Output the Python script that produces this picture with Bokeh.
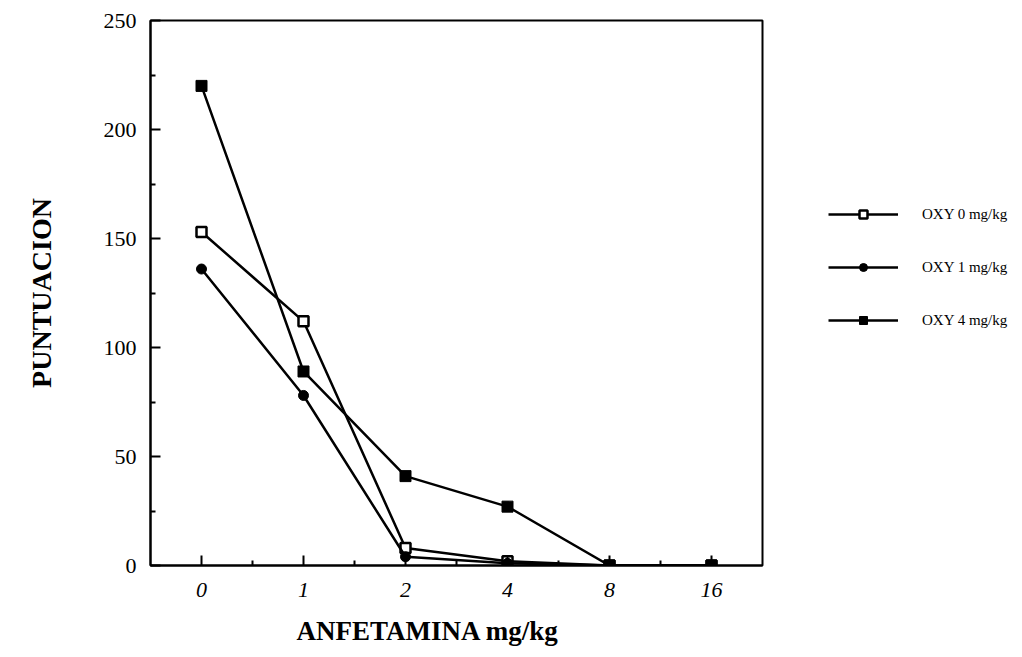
from bokeh.plotting import figure
from bokeh.models import Range1d, FixedTicker, Legend, LegendItem, Title
from bokeh.embed import file_html
from bokeh.resources import INLINE

# ---- data ----
doses = ["0", "1", "2", "4", "8", "16"]          # ANFETAMINA mg/kg (categorical)
oxy0 = [153, 112, 8, 2, 0, 0]                    # OXY 0 mg/kg (open square)
oxy1 = [136, 78, 4, 1, 0, 0]                     # OXY 1 mg/kg (filled circle)
oxy4 = [220, 89, 41, 27, 0, 0]                   # OXY 4 mg/kg (filled square)
y_ticks = [0, 50, 100, 150, 200, 250]
series_labels = ["OXY 0 mg/kg", "OXY 1 mg/kg", "OXY 4 mg/kg"]

xpos = list(range(len(doses)))
SERIF = "Liberation Serif"

p = figure(frame_width=612, frame_height=545, output_backend="svg", toolbar_location=None,
           x_range=Range1d(-0.5, len(doses) - 0.5),
           y_range=Range1d(y_ticks[0], y_ticks[-1]),
           min_border_left=150, min_border_right=0,
           min_border_top=20, min_border_bottom=0)

p.background_fill_color = "white"
p.border_fill_color = "white"
p.grid.visible = False
p.outline_line_color = "black"
p.outline_line_width = 2

# axes
p.xaxis.ticker = FixedTicker(ticks=xpos, minor_ticks=[i + 0.5 for i in xpos[:-1]])
p.xaxis.major_label_overrides = {i: d for i, d in enumerate(doses)}
p.yaxis.ticker = FixedTicker(ticks=y_ticks,
                             minor_ticks=[(a + b) / 2 for a, b in zip(y_ticks[:-1], y_ticks[1:])])

for ax in (p.xaxis[0], p.yaxis[0]):
    ax.axis_line_color = "black"
    ax.axis_line_width = 2
    ax.major_tick_in = 10
    ax.major_tick_out = 0
    ax.minor_tick_in = 5
    ax.minor_tick_out = 0
    ax.major_tick_line_width = 2
    ax.minor_tick_line_width = 2
    ax.major_tick_line_color = "black"
    ax.minor_tick_line_color = "black"
    ax.major_label_text_font = SERIF
    ax.major_label_text_font_size = "22px"
    ax.major_label_text_color = "black"
    ax.axis_label_text_font = SERIF
    ax.axis_label_text_font_style = "bold"
    ax.axis_label_text_font_size = "28px"
    ax.axis_label_text_color = "black"

p.xaxis.major_label_text_font_style = "italic"
p.xaxis.major_label_standoff = 17

p.yaxis.major_label_standoff = 14
p.yaxis.axis_label = "PUNTUACION"
p.yaxis.axis_label_standoff = 44

# x-axis title (offset to the left, as in the reference)
xtitle = Title(text="ANFETAMINA mg/kg", align="left", offset=146,
               text_font=SERIF, text_font_style="bold", text_font_size="27px",
               text_color="black", standoff=28)
p.add_layout(xtitle, "below")

# series
r0 = p.line(xpos, oxy0, line_color="black", line_width=2.5)
s0 = p.scatter(xpos, oxy0, marker="square", size=10, fill_color="white",
               line_color="black", line_width=2.5)
r1 = p.line(xpos, oxy1, line_color="black", line_width=2.5)
s1 = p.scatter(xpos, oxy1, marker="circle", size=10, fill_color="black",
               line_color="black", line_width=1)
r4 = p.line(xpos, oxy4, line_color="black", line_width=2.5)
s4 = p.scatter(xpos, oxy4, marker="square", size=11, fill_color="black",
               line_color="black", line_width=1)

legend = Legend(items=[LegendItem(label=series_labels[0], renderers=[r0, s0]),
                       LegendItem(label=series_labels[1], renderers=[r1, s1]),
                       LegendItem(label=series_labels[2], renderers=[r4, s4])],
                location=(66, 235), glyph_width=70, glyph_height=20,
                label_height=20, spacing=33, label_standoff=24,
                padding=0, margin=0, border_line_color=None,
                background_fill_alpha=0,
                label_text_font=SERIF, label_text_font_size="15px",
                label_text_color="black")
p.add_layout(legend, "right")

open("out.html", "w").write(file_html(p, INLINE))
